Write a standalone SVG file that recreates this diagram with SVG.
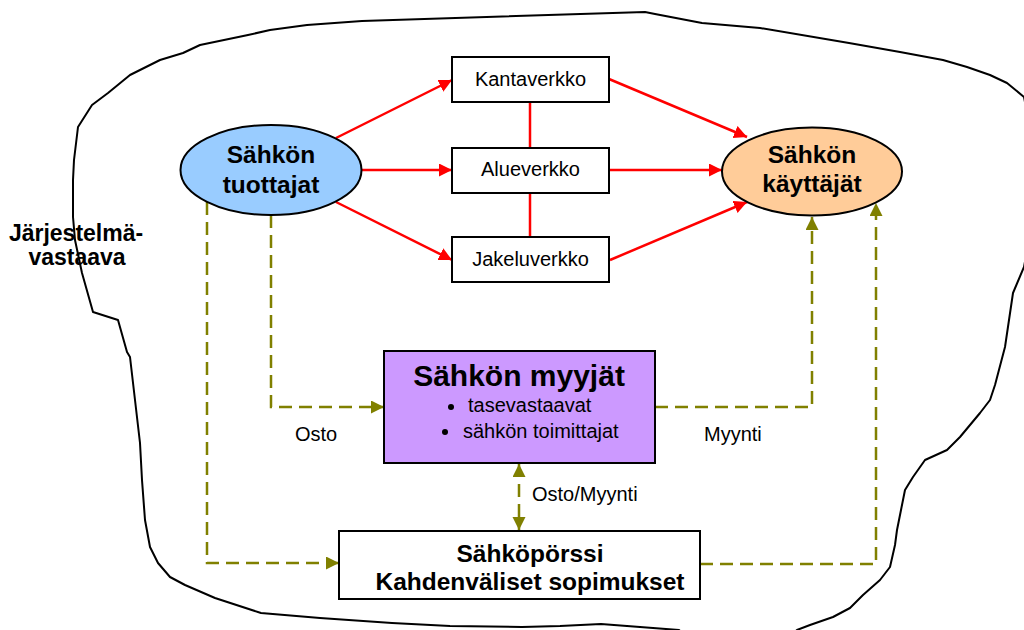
<svg xmlns="http://www.w3.org/2000/svg" width="1024" height="630" viewBox="0 0 1024 630">
<style>
.t{font-family:"Liberation Sans",Arial,sans-serif;fill:#000}
.b{font-weight:bold}
.s{font-size:20px}
.box{fill:#fff;stroke:#000;stroke-width:2}
.red{stroke:#f00;stroke-width:2.5;fill:none}
.ol{stroke:#808000;stroke-width:2.5;fill:none;stroke-dasharray:13 7}
</style>
<defs>
<marker id="ar" markerUnits="userSpaceOnUse" markerWidth="14" markerHeight="14" refX="13" refY="6.5" orient="auto"><path d="M0,0 L13,6.5 L0,13 z" fill="#f00"/></marker>
<marker id="ao" markerUnits="userSpaceOnUse" markerWidth="14" markerHeight="14" refX="13" refY="6.5" orient="auto-start-reverse"><path d="M0,0 L13,6.5 L0,13 z" fill="#808000"/></marker>
</defs>
<rect width="1024" height="630" fill="#fff"/>
<path id="boundary" d="M74,160 L78,127 L92,105 L108,93 L130,75 L150,65 L160,60 L183,53 L200,45 L248,35 L270,30 L307,25 L362,21 L645,12 L655,14 L702,23 L760,28 L849,43 L900,52 L943,60 L967,67 L990,75 L1007,83 L1024,97 L1040,180 L1024,267 L1013,293 L1005,347 L995,385 L990,400 L980,413 L960,437 L947,450 L925,460 L913,477 L905,490 L901,510 L897,530 L895,545 L890,567 L880,580 L863,595 L850,608 L833,617 L810,625 L797,630 L780,645 L690,640 L679,630 L640,627 L601,624 L560,626 L522,627 L450,626 L392,623 L320,618 L261,613 L215,598 L185,585 L170,577 L158,563 L150,547 L145,520 L142,480 L140,443 L135,400 L130,357 L127,352 L118,320 L93,312 L82,273 L75,240 L73,217 L73,180 Z" fill="none" stroke="#000" stroke-width="2" stroke-linejoin="round"/>
<g id="connectors">
<line class="red" x1="530" y1="102" x2="530" y2="148"/>
<line class="red" x1="530" y1="193" x2="530" y2="237"/>
<line class="red" x1="336" y1="138" x2="452" y2="80" marker-end="url(#ar)"/>
<line class="red" x1="362" y1="170" x2="452" y2="170" marker-end="url(#ar)"/>
<line class="red" x1="336" y1="202" x2="452" y2="260" marker-end="url(#ar)"/>
<line class="red" x1="609" y1="79" x2="747" y2="137" marker-end="url(#ar)"/>
<line class="red" x1="610" y1="170" x2="722" y2="170" marker-end="url(#ar)"/>
<line class="red" x1="610" y1="260" x2="747" y2="202" marker-end="url(#ar)"/>
<path class="ol" d="M271,215 V407 H384" marker-end="url(#ao)"/>
<path class="ol" d="M655,407 H812 V217" marker-end="url(#ao)"/>
<path class="ol" d="M207,202 V563 H339" marker-end="url(#ao)"/>
<path class="ol" d="M700,564 H876 V203" marker-end="url(#ao)"/>
<path class="ol" d="M519,464 V530" marker-start="url(#ao)" marker-end="url(#ao)"/>
<text class="t s" x="295" y="441">Osto</text>
<text class="t s" x="704" y="441">Myynti</text>
<text class="t s" x="532" y="501">Osto/Myynti</text>
</g>
<g id="tuottajat">
<ellipse cx="271" cy="170" rx="90.5" ry="45" fill="#99ccff" stroke="#000" stroke-width="2"/>
<text class="t b" x="271" y="163" font-size="24.5" text-anchor="middle">Sähkön</text>
<text class="t b" x="271" y="193" font-size="24.5" text-anchor="middle">tuottajat</text>
</g>
<g id="kayttajat">
<ellipse cx="812" cy="171.5" rx="90" ry="44" fill="#ffcc99" stroke="#000" stroke-width="2"/>
<text class="t b" x="812" y="163" font-size="24.5" text-anchor="middle">Sähkön</text>
<text class="t b" x="812" y="192" font-size="24.5" text-anchor="middle">käyttäjät</text>
</g>
<g id="kantaverkko">
<rect class="box" x="452" y="57" width="157" height="45"/>
<text class="t s" x="530.5" y="86" text-anchor="middle">Kantaverkko</text>
</g>
<g id="alueverkko">
<rect class="box" x="452" y="148" width="157" height="45"/>
<text class="t s" x="530.5" y="176" text-anchor="middle">Alueverkko</text>
</g>
<g id="jakeluverkko">
<rect class="box" x="452" y="237" width="157" height="45"/>
<text class="t s" x="530.5" y="266" text-anchor="middle">Jakeluverkko</text>
</g>
<g id="myyjat">
<rect x="384" y="351" width="271" height="112" fill="#cc99ff" stroke="#000" stroke-width="2"/>
<text class="t b" x="519" y="386" font-size="30" text-anchor="middle">Sähkön myyjät</text>
<circle cx="451" cy="407" r="3"/>
<text class="t s" x="468" y="412">tasevastaavat</text>
<circle cx="445" cy="432" r="3"/>
<text class="t s" x="463" y="438">sähkön toimittajat</text>
</g>
<g id="porssi">
<rect class="box" x="339" y="531" width="361" height="68"/>
<text class="t b" x="530" y="562" font-size="24.5" text-anchor="middle">Sähköpörssi</text>
<text class="t b" x="530" y="590" font-size="24.5" text-anchor="middle">Kahdenväliset sopimukset</text>
</g>
<g id="jarjestelmavastaava">
<text class="t b" x="76" y="241" font-size="23" text-anchor="middle">Järjestelmä-</text>
<text class="t b" x="77" y="265" font-size="23" text-anchor="middle">vastaava</text>
</g>
</svg>
